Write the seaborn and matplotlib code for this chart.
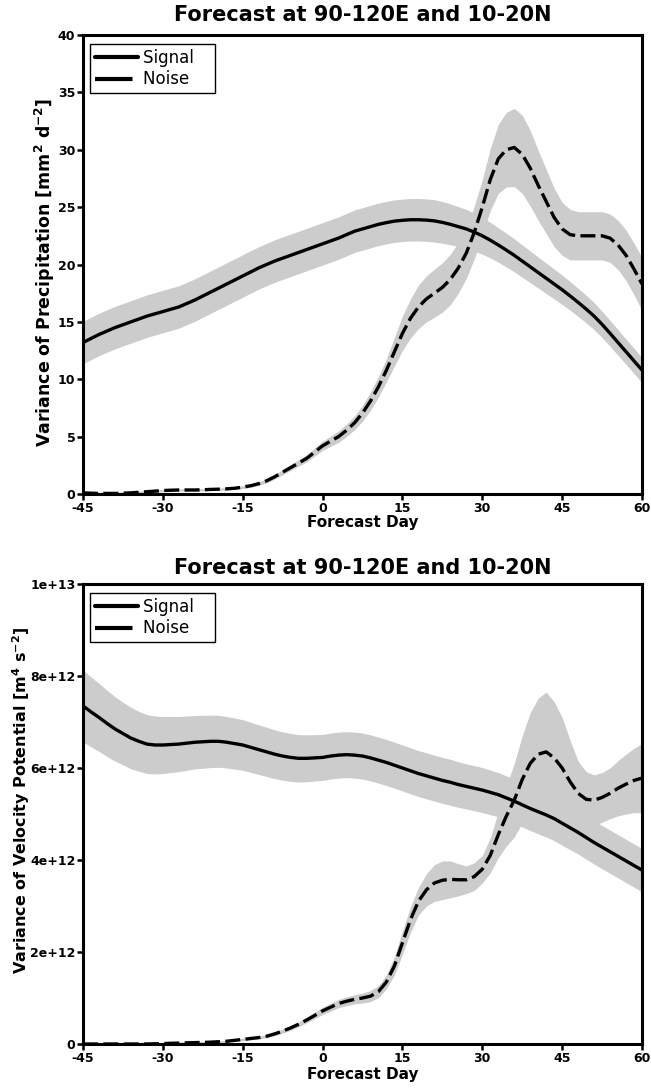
import numpy as np
import pandas as pd
import matplotlib
matplotlib.use("Agg")
import matplotlib.pyplot as plt
import seaborn as sns
from matplotlib.lines import Line2D

# ---------------- data ----------------
days = [-45, -43.5, -42, -40.5, -39, -37.5, -36, -34.5, -33, -31.5,
        -30, -28.5, -27, -25.5, -24, -22.5, -21, -19.5, -18, -16.5,
        -15, -13.5, -12, -10.5, -9, -7.5, -6, -4.5, -3, -1.5,
        0, 1.5, 3, 4.5, 6, 7.5, 9, 10.5, 12, 13.5,
        15, 16.5, 18, 19.5, 21, 22.5, 24, 25.5, 27, 28.5,
        30, 31.5, 33, 34.5, 36, 37.5, 39, 40.5, 42, 43.5,
        45, 46.5, 48, 49.5, 51, 52.5, 54, 55.5, 57, 58.5,
        60]

# Precipitation variance [mm^2 d^-2]
precip_signal = [13.2, 13.55, 13.9, 14.2, 14.5, 14.75, 15.0, 15.25, 15.5, 15.7,
                 15.9, 16.1, 16.3, 16.6, 16.9, 17.25, 17.6, 17.95, 18.3, 18.65,
                 19.0, 19.35, 19.7, 20.0, 20.3, 20.55, 20.8, 21.05, 21.3, 21.55,
                 21.8, 22.05, 22.3, 22.6, 22.9, 23.1, 23.3, 23.5, 23.65, 23.78,
                 23.85, 23.9, 23.9, 23.87, 23.8, 23.67, 23.5, 23.3, 23.1, 22.82,
                 22.5, 22.12, 21.7, 21.26, 20.8, 20.3, 19.8, 19.3, 18.8, 18.3,
                 17.8, 17.26, 16.7, 16.12, 15.5, 14.78, 14.0, 13.2, 12.4, 11.6,
                 10.8]
precip_signal_spread = [1.85, 1.85, 1.85, 1.85, 1.85, 1.85, 1.85, 1.85, 1.85, 1.85,
                        1.85, 1.85, 1.85, 1.85, 1.85, 1.85, 1.85, 1.85, 1.85, 1.85,
                        1.85, 1.85, 1.85, 1.85, 1.85, 1.85, 1.85, 1.85, 1.85, 1.85,
                        1.85, 1.85, 1.85, 1.85, 1.85, 1.85, 1.85, 1.85, 1.85, 1.85,
                        1.85, 1.85, 1.85, 1.85, 1.85, 1.82, 1.78, 1.74, 1.7, 1.65,
                        1.6, 1.55, 1.5, 1.47, 1.44, 1.41, 1.38, 1.35, 1.33, 1.3,
                        1.28, 1.25, 1.23, 1.2, 1.18, 1.15, 1.13, 1.12, 1.1, 1.1,
                        1.1]
precip_noise = [0.1, 0.07, 0.05, 0.05, 0.05, 0.07, 0.1, 0.15, 0.2, 0.25,
                0.3, 0.33, 0.35, 0.35, 0.35, 0.37, 0.4, 0.42, 0.45, 0.5,
                0.6, 0.72, 0.9, 1.15, 1.5, 1.9, 2.3, 2.7, 3.1, 3.65,
                4.2, 4.6, 5.0, 5.55, 6.2, 7.05, 8.1, 9.35, 10.8, 12.4,
                14.0, 15.3, 16.3, 17.0, 17.5, 18.0, 18.7, 19.7, 21.0, 22.8,
                25.0, 27.4, 29.2, 30.0, 30.2, 29.6, 28.4, 26.9, 25.5, 24.1,
                23.1, 22.6, 22.5, 22.5, 22.5, 22.5, 22.3, 21.7, 20.8, 19.6,
                18.3]
precip_noise_spread = [0.1, 0.1, 0.1, 0.1, 0.1, 0.1, 0.1, 0.1, 0.1, 0.1,
                       0.1, 0.1, 0.1, 0.1, 0.1, 0.1, 0.1, 0.1, 0.1, 0.1,
                       0.12, 0.13, 0.15, 0.18, 0.2, 0.22, 0.25, 0.28, 0.3, 0.35,
                       0.4, 0.45, 0.5, 0.55, 0.6, 0.7, 0.8, 0.9, 1.0, 1.25,
                       1.5, 1.7, 1.9, 2.0, 2.1, 2.15, 2.2, 2.2, 2.2, 2.3,
                       2.4, 2.7, 3.0, 3.25, 3.4, 3.4, 3.3, 3.05, 2.8, 2.55,
                       2.3, 2.2, 2.1, 2.1, 2.1, 2.1, 2.1, 2.15, 2.2, 2.25,
                       2.3]

# Velocity potential variance [m^4 s^-2], in units of 1e12
chi_scale = 1e12
chi_signal = [7.35, 7.22, 7.1, 6.97, 6.85, 6.75, 6.65, 6.58, 6.52, 6.5,
              6.5, 6.51, 6.52, 6.54, 6.56, 6.57, 6.58, 6.58, 6.56, 6.53,
              6.5, 6.45, 6.4, 6.35, 6.3, 6.26, 6.23, 6.21, 6.21, 6.22,
              6.23, 6.26, 6.28, 6.29, 6.28, 6.26, 6.22, 6.17, 6.12, 6.06,
              6.0, 5.94, 5.88, 5.83, 5.78, 5.73, 5.69, 5.64, 5.6, 5.56,
              5.52, 5.47, 5.42, 5.35, 5.28, 5.2, 5.12, 5.05, 4.98, 4.9,
              4.8, 4.7, 4.6, 4.49, 4.38, 4.28, 4.18, 4.08, 3.98, 3.88,
              3.78]
chi_signal_spread = [0.78, 0.76, 0.74, 0.72, 0.7, 0.68, 0.67, 0.65, 0.64, 0.63,
                     0.62, 0.61, 0.6, 0.59, 0.58, 0.575, 0.57, 0.565, 0.56, 0.555,
                     0.55, 0.545, 0.54, 0.535, 0.53, 0.525, 0.52, 0.515, 0.51, 0.505,
                     0.5, 0.5, 0.5, 0.5, 0.5, 0.5, 0.5, 0.5, 0.5, 0.5,
                     0.5, 0.5, 0.5, 0.5, 0.5, 0.5, 0.5, 0.495, 0.49, 0.49,
                     0.49, 0.485, 0.48, 0.48, 0.48, 0.48, 0.48, 0.48, 0.48, 0.48,
                     0.48, 0.475, 0.47, 0.47, 0.47, 0.47, 0.47, 0.47, 0.47, 0.47,
                     0.47]
chi_noise = [0.0, 0.0, 0.0, 0.0, 0.0, 0.0, 0.0, 0.0, 0.0, 0.005,
             0.01, 0.015, 0.02, 0.025, 0.03, 0.035, 0.04, 0.05, 0.06, 0.08,
             0.1, 0.12, 0.14, 0.17, 0.22, 0.28, 0.35, 0.43, 0.52, 0.62,
             0.72, 0.8, 0.88, 0.93, 0.97, 1.0, 1.04, 1.14, 1.35, 1.7,
             2.2, 2.7, 3.1, 3.35, 3.5, 3.56, 3.58, 3.57, 3.57, 3.64,
             3.8, 4.1, 4.55, 4.95, 5.3, 5.75, 6.1, 6.3, 6.35, 6.22,
             6.0, 5.7, 5.45, 5.32, 5.3, 5.36, 5.45, 5.56, 5.65, 5.73,
             5.78]
chi_noise_spread = [0.02, 0.02, 0.02, 0.02, 0.02, 0.02, 0.02, 0.02, 0.02, 0.02,
                    0.02, 0.02, 0.02, 0.02, 0.02, 0.02, 0.02, 0.02, 0.02, 0.02,
                    0.03, 0.03, 0.03, 0.035, 0.04, 0.045, 0.05, 0.055, 0.06, 0.07,
                    0.08, 0.085, 0.09, 0.095, 0.1, 0.11, 0.12, 0.13, 0.15, 0.2,
                    0.25, 0.28, 0.3, 0.35, 0.4, 0.42, 0.4, 0.35, 0.3, 0.3,
                    0.3, 0.38, 0.5, 0.65, 0.8, 0.95, 1.1, 1.22, 1.3, 1.22,
                    1.1, 0.9, 0.7, 0.6, 0.55, 0.54, 0.55, 0.6, 0.65, 0.7,
                    0.75]

x_ticks = [-45, -30, -15, 0, 15, 30, 45, 60]
precip_yticks = [0, 5, 10, 15, 20, 25, 30, 35, 40]
chi_yticks = [0, 2e12, 4e12, 6e12, 8e12, 1e13]
chi_yticklabels = ["0", "2e+12", "4e+12", "6e+12", "8e+12", "1e+13"]

title_text = "Forecast at 90-120E and 10-20N"
xlabel_text = "Forecast Day"
precip_ylabel = "Variance of Precipitation [mm$^{\\mathbf{2}}$ d$^{\\mathbf{-2}}$]"
chi_ylabel = "Variance of Velocity Potential [m$^{\\mathbf{4}}$ s$^{\\mathbf{-2}}$]"
legend_labels = ["Signal   ", "Noise   "]

for arr in (precip_signal, precip_signal_spread, precip_noise, precip_noise_spread,
            chi_signal, chi_signal_spread, chi_noise, chi_noise_spread):
    assert len(arr) == len(days), len(arr)

# ---------------- style ----------------
sns.set_style("ticks")
plt.rcParams["font.family"] = ["DejaVu Sans"]
plt.rcParams["axes.unicode_minus"] = False
plt.rcParams["mathtext.default"] = "bf"
for key in ("text.color", "axes.labelcolor", "xtick.color", "ytick.color",
            "axes.edgecolor"):
    plt.rcParams[key] = "black"

W, H = 651, 1090
fig = plt.figure(figsize=(W / 100, H / 100), dpi=100)

BAND = "#cccccc"
LW = 2.4
NOISE_DASH = (0, (4.5, 1.6))


def px_axes(left, top, right, bottom):
    return [left / W, 1 - bottom / H, (right - left) / W, (bottom - top) / H]


def draw_panel(rect, sig, sig_sp, noi, noi_sp, scale, yticks, yticklabels, ylim,
               ylabel, ylabel_xy, ylabel_size, title_y, xlabel_y):
    ax = fig.add_axes(px_axes(*rect))
    d = np.array(days, dtype=float)
    s = np.array(sig) * scale
    ss = np.array(sig_sp) * scale
    n = np.array(noi) * scale
    ns = np.array(noi_sp) * scale
    ax.fill_between(d, s - ss, s + ss, color=BAND, lw=0, zorder=1)
    ax.fill_between(d, n - ns, n + ns, color=BAND, lw=0, zorder=1)
    df = pd.DataFrame({"day": d, "signal": s, "noise": n})
    sns.lineplot(data=df, x="day", y="signal", ax=ax, color="black", lw=LW,
                 zorder=3)
    sns.lineplot(data=df, x="day", y="noise", ax=ax, color="black", lw=LW,
                 linestyle=NOISE_DASH, zorder=3)
    ax.set_xlim(-45, 60)
    ax.set_ylim(*ylim)
    ax.set_xticks(x_ticks)
    ax.set_xticklabels([str(t) for t in x_ticks])
    ax.set_yticks(yticks)
    ax.set_yticklabels(yticklabels)
    ax.set_xlabel("")
    ax.set_ylabel("")
    for sp in ax.spines.values():
        sp.set_linewidth(2.2)
        sp.set_color("black")
    ax.tick_params(axis="both", direction="out", length=4, width=1.8,
                   labelsize=9, pad=1.5, color="black", labelcolor="black")
    for lab in ax.get_xticklabels() + ax.get_yticklabels():
        lab.set_fontweight("bold")
    handles = [Line2D([], [], color="black", lw=3.0),
               Line2D([], [], color="black", lw=3.0, linestyle=(0, (9.0, 6.0)))]
    leg = ax.legend(handles, legend_labels, loc="upper left",
                    bbox_to_anchor=(7 / (rect[2] - rect[0]), 1 - 9 / (rect[3] - rect[1])),
                    borderaxespad=0, frameon=True, fancybox=False, framealpha=1,
                    edgecolor="black", fontsize=12, handlelength=2.6,
                    handletextpad=0.3, borderpad=0.3, labelspacing=0.2)
    leg.get_frame().set_linewidth(1.0)
    for t in leg.get_texts():
        t.set_color("black")
    cx = (rect[0] + rect[2]) / 2
    fig.text(cx / W, 1 - title_y / H, title_text, ha="center", va="center",
             fontsize=15, fontweight="bold", color="black")
    fig.text(cx / W, 1 - xlabel_y / H, xlabel_text, ha="center", va="center",
             fontsize=11, fontweight="bold", color="black")
    fig.text(ylabel_xy[0] / W, 1 - ylabel_xy[1] / H, ylabel, ha="center",
             va="center", rotation=90, fontsize=ylabel_size, fontweight="bold",
             color="black")
    return ax


draw_panel((83, 35, 642, 494), precip_signal, precip_signal_spread, precip_noise,
           precip_noise_spread, 1.0, precip_yticks,
           [str(t) for t in precip_yticks], (0, 40), precip_ylabel, (45, 272), 12.5,
           15, 523)

draw_panel((83, 584, 642, 1044), chi_signal, chi_signal_spread, chi_noise,
           chi_noise_spread, chi_scale, chi_yticks, chi_yticklabels, (0, 1e13),
           chi_ylabel, (21, 800), 11.5, 568, 1075)

fig.savefig("out.png", dpi=100)
